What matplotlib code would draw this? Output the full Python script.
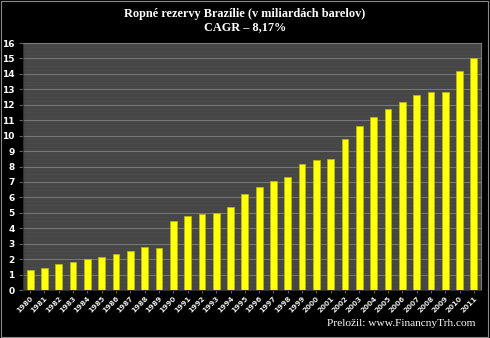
import matplotlib
matplotlib.use("Agg")
import matplotlib.pyplot as plt
from matplotlib.patches import Rectangle
import numpy as np

years = [str(y) for y in range(1980, 2012)]
reserves = [1.30, 1.45, 1.70, 1.81, 1.99, 2.14, 2.33, 2.53, 2.79, 2.74,
            4.49, 4.79, 4.94, 4.96, 5.35, 6.20, 6.65, 7.08, 7.32, 8.14,
            8.42, 8.46, 9.78, 10.60, 11.20, 11.75, 12.15, 12.60, 12.80, 12.85,
            14.20, 15.00]
title_lines = ["Ropné rezervy Brazílie (v miliardách barelov)", "CAGR – 8,17%"]
credit = "Preložil: www.FinancnyTrh.com"

fig = plt.figure(figsize=(4.9, 3.38), dpi=100, facecolor="black")
ax = fig.add_axes([23 / 490, 1 - 290 / 338, 458 / 490, 247 / 338])
ax.set_facecolor("#464646")

x = np.arange(len(years))
ax.bar(x, reserves, width=0.47, color="#ffff10", edgecolor="#b8b800",
       linewidth=0.6, zorder=3)

ax.set_xlim(-0.5, len(years) - 0.5)
ax.set_ylim(0, 16)
ax.set_yticks(range(0, 17))
ax.set_yticks(np.arange(0, 16, 0.25), minor=True)
ax.grid(axis="y", which="major", color="#767676", linewidth=0.8, zorder=1)
ax.grid(axis="y", which="minor", color="#4d4d4d", linewidth=0.5, zorder=0)
ax.tick_params(axis="y", which="minor", length=0)

ax.set_xticks(x)
ax.set_xticklabels(years, rotation=45, ha="right", rotation_mode="anchor",
                   fontsize=5.2, color="#e8e8e8", fontweight="bold")
ax.tick_params(axis="x", length=2, color="#606060", pad=2)
ax.tick_params(axis="y", which="major", length=3, color="#606060",
               labelsize=6.5, labelcolor="white", pad=3)
for lbl in ax.get_yticklabels():
    lbl.set_fontweight("bold")

for side, sp in ax.spines.items():
    sp.set_color("#7a7a7a")
    sp.set_linewidth(0.8)
ax.spines["left"].set_color("#303030")
ax.spines["bottom"].set_color("#303030")

fig.text(0.5, 1 - 14 / 338, title_lines[0], ha="center", va="center",
         color="white", fontsize=8.8, fontweight="bold", family="Liberation Serif")
fig.text(0.5, 1 - 27 / 338, title_lines[1], ha="center", va="center",
         color="white", fontsize=8.8, fontweight="bold", family="Liberation Serif")
fig.text(475 / 490, 1 - 324 / 338, credit, ha="right", va="center",
         color="white", fontsize=8.2, family="Liberation Serif")

fig.patches.append(Rectangle((0.002, 0.003), 0.994, 0.994, transform=fig.transFigure,
                             fill=False, edgecolor="#8a8a8a", linewidth=0.8))

fig.savefig("out.png", dpi=100, facecolor="black")
